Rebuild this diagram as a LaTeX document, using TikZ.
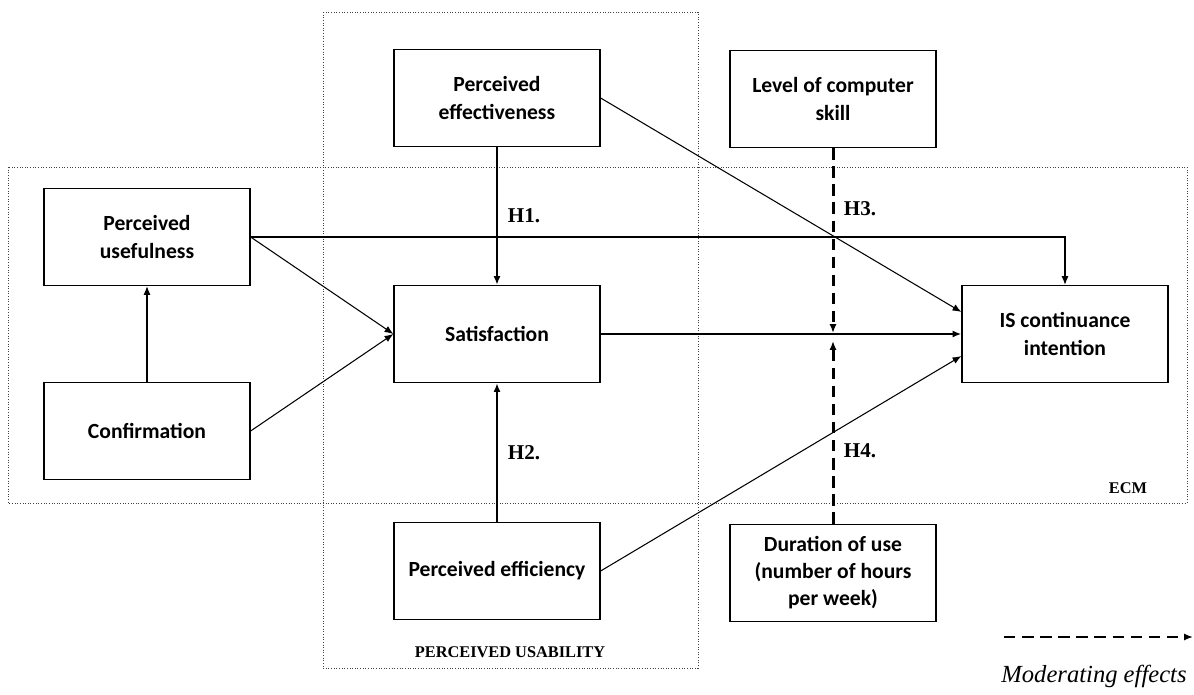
\documentclass[tikz,border=0pt]{standalone}
\usepackage{fontspec}
\setmainfont{Carlito}
\newfontfamily\labelFont{Liberation Serif}
\usetikzlibrary{positioning, arrows.meta}
\tikzstyle{diagram} = [x = .02cm, y = -.02cm]
\tikzstyle{boxStyle} = [draw, fill=white, line width=.75pt, minimum width=4.12cm, minimum height=1.94cm, align=center, font=\fontsize{12.3}{15.4}\selectfont\bfseries]
\tikzstyle{groupStyle} = [draw=black!75, densely dotted, line width=.5pt]
\tikzstyle{pathLine} = [-{Latex[length=5pt, width=4pt]}, line width=.6pt]
\tikzstyle{satLine} = [-{Latex[length=5pt, width=4pt]}, line width=1.1pt]
\tikzstyle{hypLine} = [-{Latex[length=5pt, width=4pt]}, line width=1.7pt]
\tikzstyle{modLine} = [-{Latex[length=5pt, width=4pt]}, line width=1.7pt, dash pattern=on 6.5pt off 3.8pt]
\tikzstyle{hypText} = [font=\labelFont\fontsize{12}{14}\selectfont\bfseries, right, xshift=2pt]
\tikzstyle{groupText} = [font=\labelFont\fontsize{9.3}{11}\selectfont\bfseries]
\tikzstyle{legendText} = [font=\labelFont\fontsize{14}{16}\selectfont\itshape]

\begin{document}
\begin{tikzpicture}[diagram]
  \useasboundingbox (0,0) rectangle (1194,695);
  \draw [groupStyle] (8,167) rectangle (1187,503);
  \draw [groupStyle] (323,12) rectangle (698,668);
  \node [groupText] (ecmLabel) at (1128,488) {ECM};
  \node [groupText] (usabilityLabel) at (510,652) {PERCEIVED USABILITY};

  \node [boxStyle] (usefulness) at (147,237) {Perceived\\usefulness};
  \node [boxStyle] (confirmation) at (147,431) {Confirmation};
  \node [boxStyle] (effectiveness) at (497,98) {Perceived\\effectiveness};
  \node [boxStyle] (satisfaction) at (497,334) {Satisfaction};
  \node [boxStyle] (efficiency) at (497,571) {Perceived efficiency};
  \node [boxStyle] (skill) at (833,99) {Level of computer\\skill};
  \node [boxStyle] (intention) at (1065,334) {IS continuance\\intention};
  \node [boxStyle] (duration) at (833,573) {Duration of use\\(number of hours\\per week)};

  \draw [pathLine] (confirmation) -- (usefulness);
  \draw [pathLine] (usefulness.east) -- (satisfaction.west);
  \draw [pathLine] (confirmation.east) -- (satisfaction.west);
  \draw [pathLine] (usefulness.east) -| (intention.north);
  \draw [pathLine] (effectiveness.east) -- (intention.168);
  \draw [pathLine] (efficiency.east) -- (intention.192);
  \draw [hypLine] (effectiveness) -- node [hypText] {H1.} (satisfaction);
  \draw [hypLine] (efficiency) -- node [hypText] {H2.} (satisfaction);
  \draw [satLine] (satisfaction) -- (intention);

  \coordinate (skillEnd) at (833,333);
  \coordinate (durationEnd) at (833,341);
  \draw [modLine] (skill) -- node [hypText, pos=.33] {H3.} (skillEnd);
  \draw [modLine] (duration) -- node [hypText, pos=.4] {H4.} (durationEnd);

  \coordinate (legendStart) at (1004,637);
  \coordinate (legendEnd) at (1193,637);
  \draw [modLine] (legendStart) -- (legendEnd);
  \node [legendText] (legendLabel) at (1094,676) {Moderating effects};
\end{tikzpicture}
\end{document}
